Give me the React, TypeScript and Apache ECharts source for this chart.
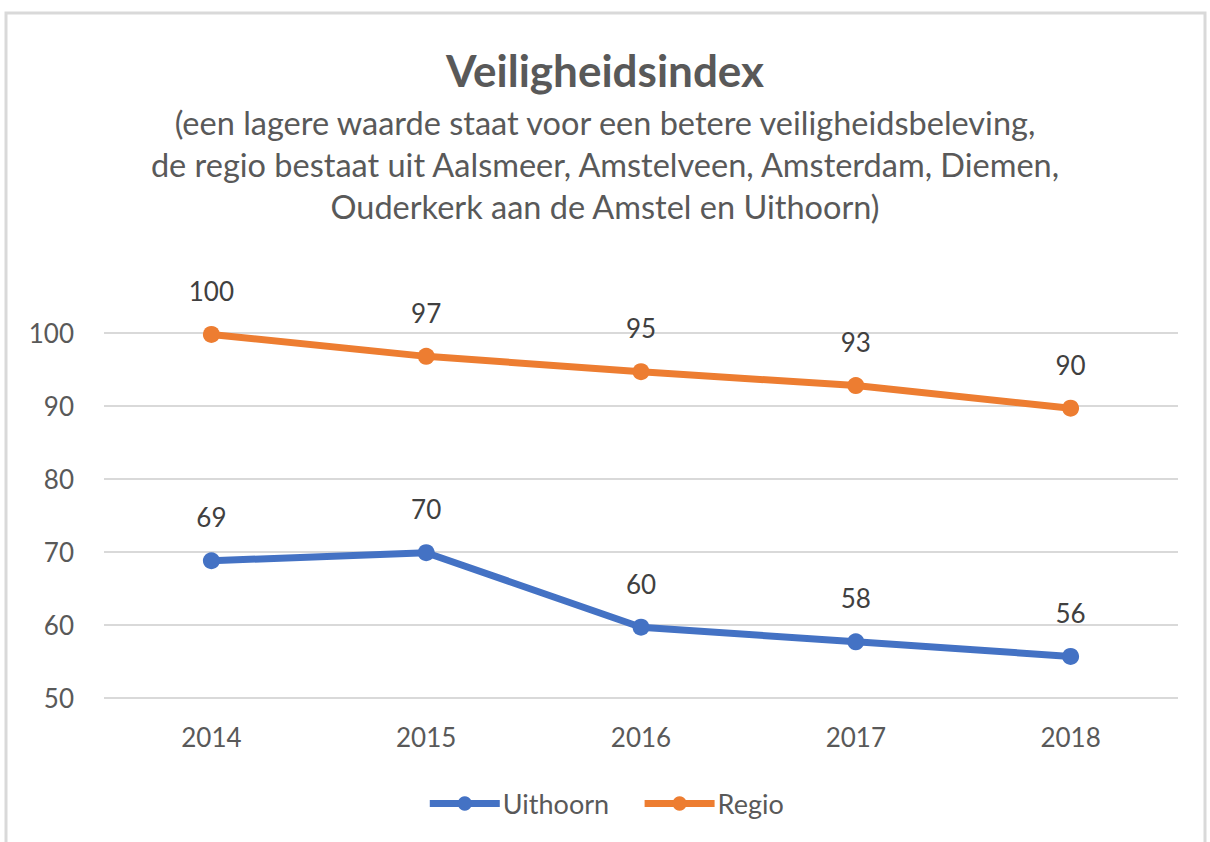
import React, { useEffect, useRef } from "react";
import * as echarts from "echarts";

const years = ["2014", "2015", "2016", "2017", "2018"];
const uithoorn = [68.8, 69.9, 59.7, 57.7, 55.7];
const regio = [99.8, 96.8, 94.7, 92.8, 89.7];
const titleText = "Veiligheidsindex";
const subtitleText =
  "(een lagere waarde staat voor een betere veiligheidsbeleving,\nde regio bestaat uit Aalsmeer, Amstelveen, Amsterdam, Diemen,\nOuderkerk aan de Amstel en Uithoorn)";

const FONT = "Lato, 'Open Sans', sans-serif";

export default function App() {
  const ref = useRef<HTMLDivElement>(null);
  useEffect(() => {
    if (!ref.current) return;
    const chart = echarts.init(ref.current, undefined, { renderer: "svg" });
    const labelCfg = {
      show: true,
      position: "top",
      distance: 22,
      fontSize: 26,
      fontFamily: FONT,
      color: "#404040",
      formatter: (p: any) => String(Math.round(p.value)),
    };
    chart.setOption({
      animation: false,
      backgroundColor: "#ffffff",
      textStyle: { fontFamily: FONT },
      title: [
        {
          text: titleText,
          left: "center",
          top: 43,
          textStyle: { fontSize: 44, fontWeight: "bold", color: "#595959", fontFamily: FONT },
        },
        {
          text: subtitleText,
          left: "center",
          top: 96,
          textStyle: { fontSize: 32.5, fontWeight: "normal", color: "#595959", lineHeight: 42, fontFamily: FONT },
        },
      ],
      graphic: [
        {
          type: "polyline",
          shape: { points: [[6, 860], [6, 13], [1205, 13], [1205, 860]] },
          style: { stroke: "#d9d9d9", lineWidth: 3, fill: "none" },
        },
      ],
      legend: {
        bottom: 20,
        left: "center",
        itemWidth: 70,
        itemHeight: 18,
        itemGap: 32,
        lineStyle: { width: 7 },
        textStyle: { fontSize: 27, color: "#595959", fontFamily: FONT, padding: [0, 0, 0, -2] },
        data: ["Uithoorn", "Regio"],
      },
      grid: { left: 104, right: 32, top: 333, bottom: 144 },
      xAxis: {
        type: "category",
        data: years,
        boundaryGap: true,
        axisLine: { show: false },
        axisTick: { show: false },
        axisLabel: { fontSize: 26, color: "#595959", margin: 26, fontFamily: FONT },
      },
      yAxis: {
        type: "value",
        min: 50,
        max: 100,
        interval: 10,
        axisLine: { show: false },
        axisTick: { show: false },
        axisLabel: { fontSize: 26, color: "#595959", margin: 30, fontFamily: FONT },
        splitLine: { lineStyle: { color: "#d9d9d9", width: 2 } },
      },
      series: [
        {
          name: "Uithoorn",
          type: "line",
          data: uithoorn,
          color: "#4472C4",
          symbol: "circle",
          symbolSize: 17,
          lineStyle: { width: 7, color: "#4472C4" },
          itemStyle: { color: "#4472C4" },
          label: labelCfg,
        },
        {
          name: "Regio",
          type: "line",
          data: regio,
          color: "#ED7D31",
          symbol: "circle",
          symbolSize: 17,
          lineStyle: { width: 7, color: "#ED7D31" },
          itemStyle: { color: "#ED7D31" },
          label: labelCfg,
        },
      ],
    });
    return () => chart.dispose();
  }, []);
  return (
    <div
      ref={ref}
      style={{ position: "absolute", left: 0, top: 0, width: 1210, height: 842 }}
    />
  );
}
